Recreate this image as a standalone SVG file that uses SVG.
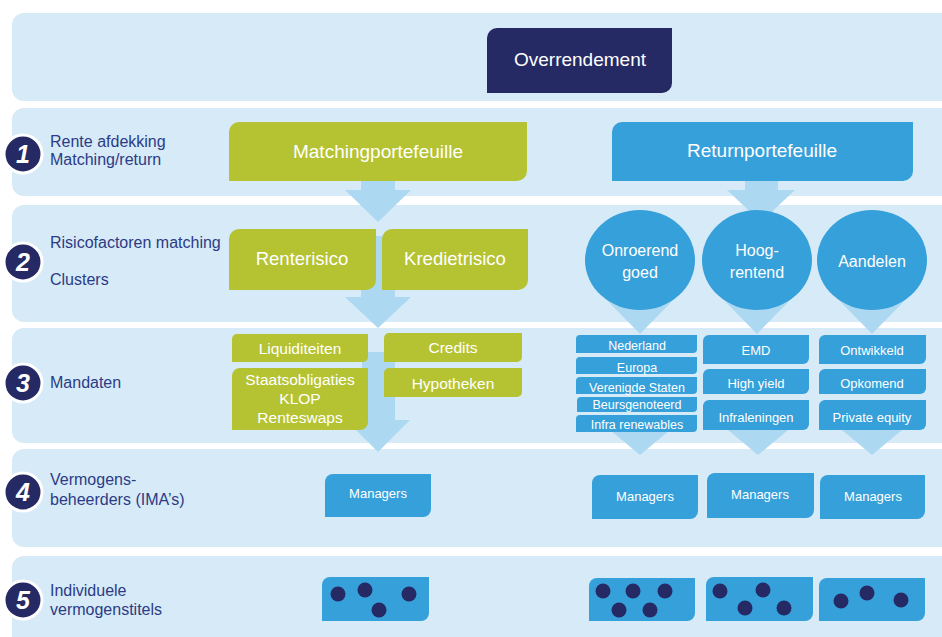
<svg xmlns="http://www.w3.org/2000/svg" width="942" height="637" viewBox="0 0 942 637">
<style>
.band{fill:#d6eaf7}
.arrow{fill:#acd8f1}
.navy{fill:#252a64}
.green{fill:#b5c332}
.blue{fill:#36a0da}
.dot{fill:#262a64}
.wt{fill:#fff;font-family:"Liberation Sans",Arial,sans-serif;text-anchor:middle}
.lbl{fill:#2c3b86;font-family:"Liberation Sans",Arial,sans-serif;font-size:16px}
.numc{fill:#262a64;stroke:#fff;stroke-width:3}
.num{fill:#fff;font-family:"Liberation Sans",Arial,sans-serif;font-size:25px;font-weight:bold;font-style:italic;text-anchor:middle}
</style>
<rect width="942" height="637" fill="#fff"/>
<g id="bands">
<rect class="band" x="12" y="13" width="945" height="88" rx="12"/>
<rect class="band" x="12" y="108" width="945" height="88" rx="12"/>
<rect class="band" x="12" y="205" width="945" height="117" rx="12"/>
<rect class="band" x="12" y="328" width="945" height="115" rx="12"/>
<rect class="band" x="12" y="449" width="945" height="98" rx="12"/>
<rect class="band" x="12" y="556" width="945" height="100" rx="12"/>
</g>
<g id="levels">
<circle class="numc" cx="23" cy="154" r="19"/><text class="num" x="23" y="163">1</text>
<text class="lbl" x="50" y="147">Rente afdekking</text><text class="lbl" x="50" y="165">Matching/return</text>
<circle class="numc" cx="23" cy="262" r="19"/><text class="num" x="23" y="271">2</text>
<text class="lbl" x="50" y="248">Risicofactoren matching</text><text class="lbl" x="50" y="285">Clusters</text>
<circle class="numc" cx="23" cy="383" r="19"/><text class="num" x="23" y="392">3</text>
<text class="lbl" x="50" y="388">Mandaten</text>
<circle class="numc" cx="23" cy="492" r="19"/><text class="num" x="23" y="501">4</text>
<text class="lbl" x="50" y="485">Vermogens-</text><text class="lbl" x="50" y="505">beheerders (IMA’s)</text>
<circle class="numc" cx="23" cy="600" r="19"/><text class="num" x="23" y="609">5</text>
<text class="lbl" x="50" y="596">Individuele</text><text class="lbl" x="50" y="615">vermogenstitels</text>
</g>
<g id="connectors">
<polygon class="arrow" points="361,180 395,180 395,190 411,190 378,222 345,190 361,190"/>
<polygon class="arrow" points="361,236 395,236 395,297 411,297 378,328 345,297 361,297"/>
<polygon class="arrow" points="362,352 395,352 395,420 410,420 378,452 346,420 362,420"/>
<polygon class="arrow" points="745,180 778,180 778,190 795,190 761,222 727,190 745,190"/>
<polygon class="arrow" points="602,295 678,295 640,334"/>
<polygon class="arrow" points="719,295 795,295 757,334"/>
<polygon class="arrow" points="834,295 910,295 872,334"/>
<polygon class="arrow" points="604,425 676,425 640,455"/>
<polygon class="arrow" points="722,425 794,425 758,455"/>
<polygon class="arrow" points="836,425 908,425 872,455"/>
</g>
<g id="overrendement"><path class="navy" d="M497,28 H672 V83 A10,10 0 0 1 662,93 H487 V38 A10,10 0 0 1 497,28 Z"/><text class="wt" x="580" y="66" font-size="19">Overrendement</text></g>
<g id="matchingportefeuille"><path class="green" d="M239,122 H527 V171 A10,10 0 0 1 517,181 H229 V132 A10,10 0 0 1 239,122 Z"/><text class="wt" x="378" y="158" font-size="19">Matchingportefeuille</text></g>
<g id="returnportefeuille"><path class="blue" d="M622,122 H913 V171 A10,10 0 0 1 903,181 H612 V132 A10,10 0 0 1 622,122 Z"/><text class="wt" x="762" y="157" font-size="19">Returnportefeuille</text></g>
<g id="renterisico"><path class="green" d="M239,229 H376 V280 A10,10 0 0 1 366,290 H229 V239 A10,10 0 0 1 239,229 Z"/><text class="wt" x="302" y="265" font-size="18.5">Renterisico</text></g>
<g id="kredietrisico"><path class="green" d="M392,229 H528 V280 A10,10 0 0 1 518,290 H382 V239 A10,10 0 0 1 392,229 Z"/><text class="wt" x="455" y="265" font-size="18.5">Kredietrisico</text></g>
<g id="onroerend"><ellipse class="blue" cx="640" cy="260" rx="55" ry="50"/><text class="wt" x="640" y="256" font-size="16">Onroerend</text><text class="wt" x="640" y="278" font-size="16">goed</text></g>
<g id="hoogrentend"><ellipse class="blue" cx="757" cy="260" rx="55" ry="50"/><text class="wt" x="757" y="256" font-size="16">Hoog-</text><text class="wt" x="757" y="278" font-size="16">rentend</text></g>
<g id="aandelen"><ellipse class="blue" cx="872" cy="260" rx="55" ry="50"/><text class="wt" x="872" y="267" font-size="16">Aandelen</text></g>
<g id="liquiditeiten"><path class="green" d="M237,334 H368 V357 A5,5 0 0 1 363,362 H232 V339 A5,5 0 0 1 237,334 Z"/><text class="wt" x="300" y="353.5" font-size="15.5">Liquiditeiten</text></g>
<g id="staatsobligaties"><path class="green" d="M240,368 H368 V422 A8,8 0 0 1 360,430 H232 V376 A8,8 0 0 1 240,368 Z"/><text class="wt" x="300" y="385" font-size="15.5">Staatsobligaties</text><text class="wt" x="300" y="404" font-size="15.5">KLOP</text><text class="wt" x="300" y="423" font-size="15.5">Renteswaps</text></g>
<g id="credits"><path class="green" d="M389,333 H522 V357 A5,5 0 0 1 517,362 H384 V338 A5,5 0 0 1 389,333 Z"/><text class="wt" x="453" y="352.5" font-size="15.5">Credits</text></g>
<g id="hypotheken"><path class="green" d="M389,368 H522 V392 A5,5 0 0 1 517,397 H384 V373 A5,5 0 0 1 389,368 Z"/><text class="wt" x="453" y="388.5" font-size="15.5">Hypotheken</text></g>
<g id="nederland"><path class="blue" d="M580,335 H697 V349 A4,4 0 0 1 693,353 H576 V339 A4,4 0 0 1 580,335 Z"/><text class="wt" x="637" y="349.5" font-size="12.5">Nederland</text></g>
<g id="europa"><path class="blue" d="M580,357 H697 V370 A4,4 0 0 1 693,374 H576 V361 A4,4 0 0 1 580,357 Z"/><text class="wt" x="637" y="371.5" font-size="12.5">Europa</text></g>
<g id="verenigde-staten"><path class="blue" d="M580,377 H697 V390 A4,4 0 0 1 693,394 H576 V381 A4,4 0 0 1 580,377 Z"/><text class="wt" x="637" y="391.5" font-size="12.5">Verenigde Staten</text></g>
<g id="beursgenoteerd"><path class="blue" d="M581,397 H697 V408 A4,4 0 0 1 693,412 H577 V401 A4,4 0 0 1 581,397 Z"/><text class="wt" x="637" y="408.5" font-size="12.5">Beursgenoteerd</text></g>
<g id="infra-renewables"><path class="blue" d="M580,415 H697 V428 A4,4 0 0 1 693,432 H576 V419 A4,4 0 0 1 580,415 Z"/><text class="wt" x="637" y="428.5" font-size="12.5">Infra renewables</text></g>
<g id="emd"><path class="blue" d="M709,335 H809 V358 A6,6 0 0 1 803,364 H703 V341 A6,6 0 0 1 709,335 Z"/><text class="wt" x="756" y="355" font-size="13">EMD</text></g>
<g id="high-yield"><path class="blue" d="M709,369 H809 V388 A6,6 0 0 1 803,394 H703 V375 A6,6 0 0 1 709,369 Z"/><text class="wt" x="756" y="387.5" font-size="13">High yield</text></g>
<g id="infraleningen"><path class="blue" d="M709,400 H809 V424 A6,6 0 0 1 803,430 H703 V406 A6,6 0 0 1 709,400 Z"/><text class="wt" x="756" y="421.5" font-size="13">Infraleningen</text></g>
<g id="ontwikkeld"><path class="blue" d="M825,335 H926 V358 A6,6 0 0 1 920,364 H819 V341 A6,6 0 0 1 825,335 Z"/><text class="wt" x="872" y="355" font-size="13">Ontwikkeld</text></g>
<g id="opkomend"><path class="blue" d="M825,369 H926 V388 A6,6 0 0 1 920,394 H819 V375 A6,6 0 0 1 825,369 Z"/><text class="wt" x="872" y="387.5" font-size="13">Opkomend</text></g>
<g id="private-equity"><path class="blue" d="M825,400 H926 V424 A6,6 0 0 1 920,430 H819 V406 A6,6 0 0 1 825,400 Z"/><text class="wt" x="872" y="421.5" font-size="13">Private equity</text></g>
<g id="managers-matching"><path class="blue" d="M333,474 H431 V509 A8,8 0 0 1 423,517 H325 V482 A8,8 0 0 1 333,474 Z"/><text class="wt" x="378" y="498" font-size="13">Managers</text></g>
<g id="managers-onroerend"><path class="blue" d="M600,475 H698 V511 A8,8 0 0 1 690,519 H592 V483 A8,8 0 0 1 600,475 Z"/><text class="wt" x="645" y="501" font-size="13">Managers</text></g>
<g id="managers-hoog"><path class="blue" d="M715,473 H814 V510 A8,8 0 0 1 806,518 H707 V481 A8,8 0 0 1 715,473 Z"/><text class="wt" x="760" y="499" font-size="13">Managers</text></g>
<g id="managers-aandelen"><path class="blue" d="M828,475 H925 V511 A8,8 0 0 1 917,519 H820 V483 A8,8 0 0 1 828,475 Z"/><text class="wt" x="873" y="501" font-size="13">Managers</text></g>
<g id="titels-matching"><path class="blue" d="M330,577 H429 V613 A8,8 0 0 1 421,621 H322 V585 A8,8 0 0 1 330,577 Z"/>
<circle class="dot" cx="338" cy="594" r="7.5"/><circle class="dot" cx="365" cy="590" r="7.5"/><circle class="dot" cx="379" cy="610" r="7.5"/><circle class="dot" cx="409" cy="594" r="7.5"/></g>
<g id="titels-onroerend"><path class="blue" d="M597,578 H695 V613 A8,8 0 0 1 687,621 H589 V586 A8,8 0 0 1 597,578 Z"/>
<circle class="dot" cx="603" cy="591" r="7.5"/><circle class="dot" cx="633" cy="591" r="7.5"/><circle class="dot" cx="665" cy="591" r="7.5"/><circle class="dot" cx="619" cy="610" r="7.5"/><circle class="dot" cx="650" cy="610" r="7.5"/></g>
<g id="titels-hoog"><path class="blue" d="M714,577 H813 V613 A8,8 0 0 1 805,621 H706 V585 A8,8 0 0 1 714,577 Z"/>
<circle class="dot" cx="720" cy="591" r="7.5"/><circle class="dot" cx="763" cy="590" r="7.5"/><circle class="dot" cx="745" cy="608" r="7.5"/><circle class="dot" cx="784" cy="608" r="7.5"/></g>
<g id="titels-aandelen"><path class="blue" d="M827,578 H925 V613 A8,8 0 0 1 917,621 H819 V586 A8,8 0 0 1 827,578 Z"/>
<circle class="dot" cx="841" cy="601" r="7.5"/><circle class="dot" cx="867" cy="593" r="7.5"/><circle class="dot" cx="901" cy="600" r="7.5"/></g>
</svg>
